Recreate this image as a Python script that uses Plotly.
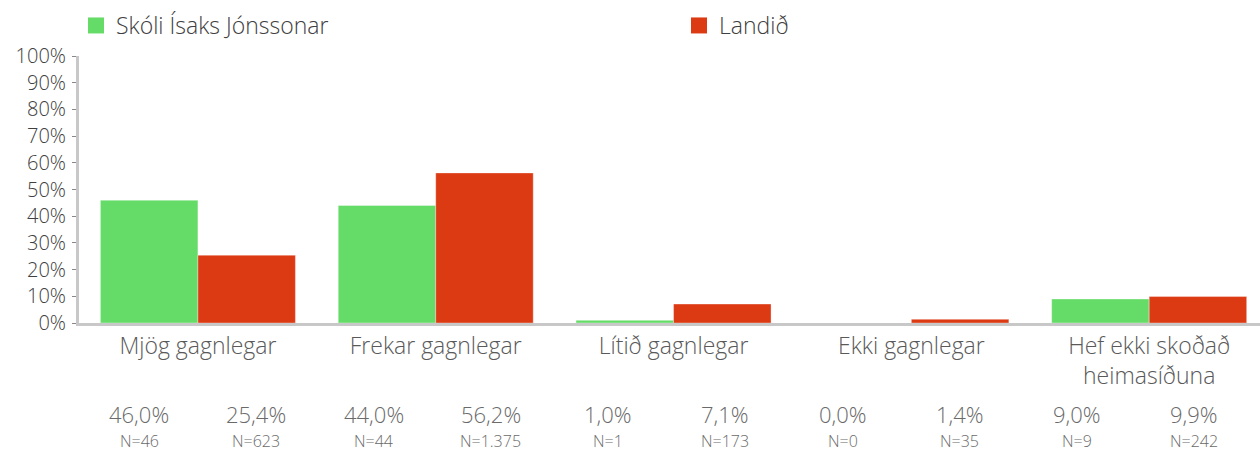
import plotly.graph_objects as go

categories = ["Mjög gagnlegar", "Frekar gagnlegar", "Lítið gagnlegar", "Ekki gagnlegar",
              "Hef ekki skoðað<br>heimasíðuna"]
series_names = ["Skóli Ísaks Jónssonar", "Landið"]
school_pct = [46.0, 44.0, 1.0, 0.0, 9.0]
country_pct = [25.4, 56.2, 7.1, 1.4, 9.9]
school_n = ["46", "44", "1", "0", "9"]
country_n = ["623", "1.375", "173", "35", "242"]
y_ticks = list(range(0, 101, 10))

GREEN = "#66DC68"
RED = "#DC3A13"
FONT = "'Open Sans', Lato, sans-serif"

x_idx = list(range(len(categories)))

fig = go.Figure()
for vals, name, color, og, leg in [(school_pct, series_names[0], GREEN, "a", "legend"),
                                   (country_pct, series_names[1], RED, "b", "legend2")]:
    fig.add_trace(go.Bar(
        x=x_idx, y=vals, name=name, offsetgroup=og, showlegend=False,
        marker=dict(color=color, line=dict(color="rgba(255,255,255,0.35)", width=1)),
        hoverinfo="skip",
    ))
    # legend-only entry with a larger square swatch
    fig.add_trace(go.Scatter(
        x=[None], y=[None], mode="markers", name=name, legend=leg,
        marker=dict(symbol="square", size=19, color=color),
    ))


def fmt_pct(v):
    return f"{v:.1f}".replace(".", ",") + "%"


annotations = []
for i in x_idx:
    centre = i * 0.986
    for off, v, n in [(-0.246, school_pct[i], school_n[i]), (0.246, country_pct[i], country_n[i])]:
        annotations.append(dict(
            x=centre + off, y=-0.34, xref="x", yref="paper", text=fmt_pct(v),
            showarrow=False, xanchor="center", yanchor="middle",
            font=dict(family=FONT, size=22, color="#6a6a6a", weight=300),
        ))
        annotations.append(dict(
            x=centre + off, y=-0.443, xref="x", yref="paper", text="N=" + n,
            showarrow=False, xanchor="center", yanchor="middle",
            font=dict(family=FONT, size=16, color="#6a6a6a", weight=300),
        ))

legend_style = dict(
    orientation="h", xref="container", y=1 - 4 / 453, yref="container",
    xanchor="left", yanchor="top", itemwidth=30,
    font=dict(family=FONT, size=23, color="#404040", weight=300),
)

fig.update_layout(
    width=1260, height=453,
    margin=dict(l=79, r=0, t=56, b=130, autoexpand=False),
    paper_bgcolor="white", plot_bgcolor="white",
    barmode="group", bargap=0.18, bargroupgap=0,
    font=dict(family=FONT, color="#404040"),
    legend=dict(x=76 / 1260, **legend_style),
    legend2=dict(x=679 / 1260, **legend_style),
    annotations=annotations,
    xaxis=dict(
        range=[-0.5, 4.466], tickmode="array", tickvals=x_idx, ticktext=categories,
        showgrid=False, zeroline=False, showline=True, linecolor="#c8c8c8", linewidth=3,
        ticks="", tickfont=dict(family=FONT, size=23, color="#595959", weight=300),
    ),
    yaxis=dict(
        range=[0, 100], tickmode="array", tickvals=y_ticks,
        ticktext=[f"{t}%" for t in y_ticks],
        showgrid=False, zeroline=False, showline=True, linecolor="#c8c8c8", linewidth=3,
        ticks="outside", ticklen=4, tickcolor="#888888", tickwidth=1,
        ticklabelstandoff=2,
        tickfont=dict(family=FONT, size=20, color="#404040", weight=300),
    ),
)

fig.write_html("out.html")
